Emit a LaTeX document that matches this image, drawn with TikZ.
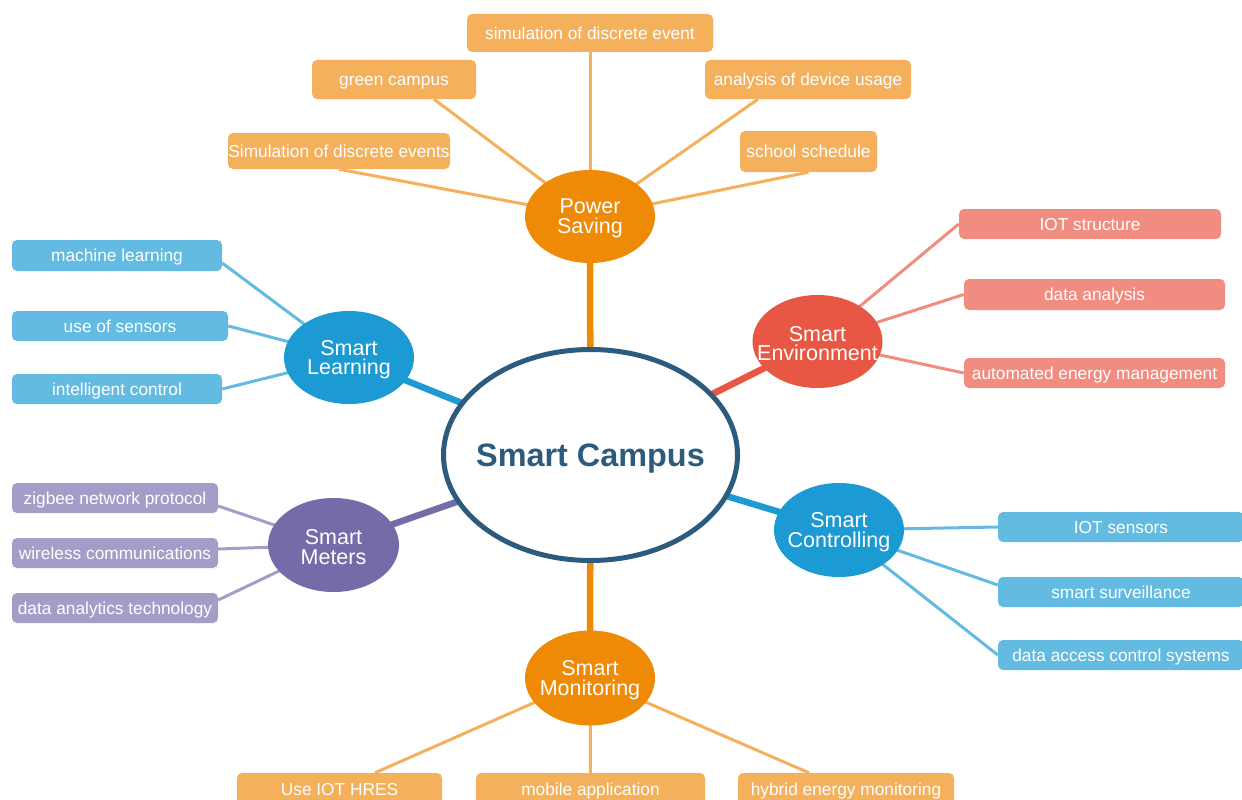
\documentclass[tikz,border=0pt]{standalone}
\usepackage{fontspec}
\setmainfont{Liberation Sans}
\usetikzlibrary{shapes.geometric,backgrounds}
\definecolor{orM}{HTML}{EF8A07}
\definecolor{orL}{HTML}{F5B05B}
\definecolor{reM}{HTML}{E75744}
\definecolor{reL}{HTML}{F08C80}
\definecolor{blM}{HTML}{1B9AD3}
\definecolor{blL}{HTML}{63BBE2}
\definecolor{puM}{HTML}{746CA8}
\definecolor{puL}{HTML}{A39DC8}
\definecolor{navy}{HTML}{2D5B7E}
\begin{document}
\begin{tikzpicture}[x=1pt,y=-1pt,
  leaf/.style={rectangle, rounded corners=5pt, inner sep=0pt, text=white, text height=12.4pt, text depth=0pt, font=\fontsize{17.3}{20}\selectfont},
  mainnode/.style={ellipse, inner sep=0pt, minimum width=130pt, minimum height=93pt},
  maintxt/.style={text=white, align=center, inner sep=0pt, yshift=-2pt, font=\fontsize{21.5}{19.5}\selectfont},
  leafline/.style={line width=3pt},
  trunk/.style={line width=6.5pt}]
\useasboundingbox (0,0) rectangle (1242,800);

% central
\node[ellipse, draw=navy, line width=5pt, fill=white, inner sep=0pt, minimum width=294pt, minimum height=211pt] (c) at (590.5,455) {};
\node[text=navy, inner sep=0pt, text depth=0pt, font=\fontsize{32.4}{36}\selectfont\bfseries] (ct) at (c.center) {Smart Campus};

% main nodes
\node[mainnode, fill=orM] (ps) at (590,216.5) {};
\node[maintxt] (pst) at (ps.center) {Power\\Saving};
\node[mainnode, fill=reM] (se) at (817.5,341.5) {};
\node[maintxt] (set) at (se.center) {Smart\\Environment};
\node[mainnode, fill=blM] (sl) at (349,357.5) {};
\node[maintxt] (slt) at (sl.center) {Smart\\Learning};
\node[mainnode, fill=puM, minimum width=131pt, minimum height=94pt] (sm) at (333.5,545) {};
\node[maintxt] (smt) at (sm.center) {Smart\\Meters};
\node[mainnode, fill=blM, minimum height=94pt] (sc) at (839,530) {};
\node[maintxt] (sct) at (sc.center) {Smart\\Controlling};
\node[mainnode, fill=orM, minimum height=95pt] (mo) at (590,678) {};
\node[maintxt] (mot) at (mo.center) {Smart\\Monitoring};

% power saving leaves
\node[leaf, fill=orL, minimum width=246pt, minimum height=38pt] (ps1) at (590,33) {simulation of discrete event};
\node[leaf, fill=orL, minimum width=164pt, minimum height=39pt] (ps2) at (394,79.5) {green campus};
\node[leaf, fill=orL, minimum width=206pt, minimum height=39pt] (ps3) at (808,79.5) {analysis of device usage};
\node[leaf, fill=orL, minimum width=222pt, minimum height=36pt] (ps4) at (339,151) {Simulation of discrete events};
\node[leaf, fill=orL, minimum width=137pt, minimum height=41pt] (ps5) at (808.5,151.5) {school schedule};

% environment leaves
\node[leaf, fill=reL, minimum width=262pt, minimum height=30pt] (se1) at (1090,224) {IOT structure};
\node[leaf, fill=reL, minimum width=261pt, minimum height=31pt] (se2) at (1094.5,294.5) {data analysis};
\node[leaf, fill=reL, minimum width=261pt, minimum height=30pt] (se3) at (1094.5,373) {automated energy management};

% learning leaves
\node[leaf, fill=blL, minimum width=210pt, minimum height=31pt] (sl1) at (117,255.5) {machine learning};
\node[leaf, fill=blL, minimum width=216pt, minimum height=30pt] (sl2) at (120,326) {use of sensors};
\node[leaf, fill=blL, minimum width=210pt, minimum height=30pt] (sl3) at (117,389) {intelligent control};

% meters leaves
\node[leaf, fill=puL, minimum width=206pt, minimum height=30pt] (sm1) at (115,498) {zigbee network protocol};
\node[leaf, fill=puL, minimum width=206pt, minimum height=30pt] (sm2) at (115,553) {wireless communications};
\node[leaf, fill=puL, minimum width=206pt, minimum height=30pt] (sm3) at (115,608) {data analytics technology};

% controlling leaves
\node[leaf, fill=blL, minimum width=246pt, minimum height=30pt] (sc1) at (1121,527) {IOT sensors};
\node[leaf, fill=blL, minimum width=246pt, minimum height=30pt] (sc2) at (1121,592) {smart surveillance};
\node[leaf, fill=blL, minimum width=246pt, minimum height=30pt] (sc3) at (1121,655) {data access control systems};

% monitoring leaves
\node[leaf, fill=orL, minimum width=205pt, minimum height=32pt] (mo1) at (339.5,789) {Use IOT HRES};
\node[leaf, fill=orL, minimum width=229pt, minimum height=32pt] (mo2) at (590.5,789) {mobile application};
\node[leaf, fill=orL, minimum width=216pt, minimum height=32pt] (mo3) at (846,789) {hybrid energy monitoring};

\begin{pgfonlayer}{background}
  % trunks
  \draw[trunk, orM] (c.center) -- (ps.center);
  \draw[trunk, reM] (c.center) -- (se.center);
  \draw[trunk, blM] (c.center) -- (sl.center);
  \draw[trunk, puM] (c.center) -- (sm.center);
  \draw[trunk, blM] (c.center) -- (sc.center);
  \draw[trunk, orM] (c.center) -- (mo.center);
  % power saving
  \draw[leafline, orL] (ps1.south) -- (ps.center);
  \draw[leafline, orL] ([xshift=40pt]ps2.south) -- (ps.center);
  \draw[leafline, orL] ([xshift=-50pt]ps3.south) -- (ps.center);
  \draw[leafline, orL] (ps4.south) -- (ps.center);
  \draw[leafline, orL] (ps5.south) -- (ps.center);
  % environment
  \draw[leafline, reL] (se1.west) -- (se.center);
  \draw[leafline, reL] (se2.west) -- (se.center);
  \draw[leafline, reL] (se3.west) -- (se.center);
  % learning
  \draw[leafline, blL] ([yshift=-7.5pt]sl1.east) -- (sl.center);
  \draw[leafline, blL] (sl2.east) -- (sl.center);
  \draw[leafline, blL] (sl3.east) -- (sl.center);
  % meters
  \draw[leafline, puL] ([yshift=-8pt]sm1.east) -- (sm.center);
  \draw[leafline, puL] ([yshift=4pt]sm2.east) -- (sm.center);
  \draw[leafline, puL] ([yshift=8pt]sm3.east) -- (sm.center);
  % controlling
  \draw[leafline, blL] (sc1.west) -- (sc.center);
  \draw[leafline, blL] ([yshift=7pt]sc2.west) -- (sc.center);
  \draw[leafline, blL] (sc3.west) -- (sc.center);
  % monitoring
  \draw[leafline, orL] ([xshift=35.5pt]mo1.north) -- (mo.center);
  \draw[leafline, orL] (mo2.north) -- (mo.center);
  \draw[leafline, orL] ([xshift=-37pt]mo3.north) -- (mo.center);
\end{pgfonlayer}
\end{tikzpicture}
\end{document}
